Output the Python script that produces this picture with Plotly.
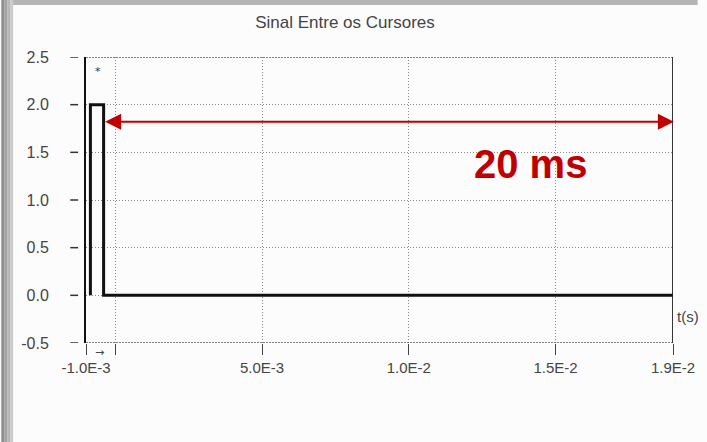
import plotly.graph_objects as go

# ---- data ----
title_text = "Sinal Entre os Cursores"
t_signal = [-0.85e-3, -0.85e-3, -0.40e-3, -0.40e-3, 1.9e-2]
v_signal = [0.0, 2.0, 2.0, 0.0, 0.0]
x_tickvals = [-1.0e-3, 0.0, 5.0e-3, 1.0e-2, 1.5e-2, 1.9e-2]
x_ticktext = ["-1.0E-3", "", "5.0E-3", "1.0E-2", "1.5E-2", "1.9E-2"]
y_tickvals = [-0.5, 0.0, 0.5, 1.0, 1.5, 2.0, 2.5]
y_ticktext = ["-0.5", "0.0", "0.5", "1.0", "1.5", "2.0", "2.5"]
x_range = [-1.0e-3, 1.9e-2]
y_range = [-0.5, 2.5]
span_start, span_end, span_level = -0.40e-3, 1.903e-2, 1.82
span_label = "20 ms"
span_label_pos = (1.416e-2, 1.38)
x_unit = "t(s)"

RED = "#C00000"
W, H = 707, 442
L, R, T, B = 86, 25, 57, 99
pw, ph = W - L - R, H - T - B

def px_x(px):
    return (px - L) / pw

def px_y(py):
    return (H - B - py) / ph

fig = go.Figure()
fig.add_trace(go.Scatter(x=t_signal, y=v_signal, mode="lines",
                         line=dict(color="#111111", width=3),
                         hoverinfo="skip", showlegend=False))

shapes = []
# frame strips (scan shadow)
strip_cols = ["#8f8f8f", "#a3a3a3", "#b8b8b8", "#cbcbcb"]
for i, c in enumerate(strip_cols):
    shapes.append(dict(type="rect", xref="paper", yref="paper", layer="below",
                       x0=px_x(i * 3), x1=px_x(i * 3 + 3), y0=px_y(H), y1=px_y(0),
                       line=dict(width=0), fillcolor=c))
shapes.append(dict(type="rect", xref="paper", yref="paper", layer="below",
                   x0=px_x(12), x1=px_x(W), y0=px_y(5), y1=px_y(0),
                   line=dict(width=0), fillcolor="#b5b5b5"))
# dotted top / bottom borders
for yv in (y_range[0], y_range[1]):
    shapes.append(dict(type="line", xref="x", yref="y", x0=x_range[0], x1=x_range[1],
                       y0=yv, y1=yv, line=dict(color="#555555", width=1.3, dash="2px,1px")))
# right cursor line
shapes.append(dict(type="line", xref="x", yref="y", x0=x_range[1], x1=x_range[1],
                   y0=y_range[0], y1=y_range[1], line=dict(color="#222222", width=1.8)))
# detached y tick dashes
for yv in y_tickvals:
    shapes.append(dict(type="line", xref="paper", yref="y", x0=px_x(70), x1=px_x(78),
                       y0=yv, y1=yv, line=dict(color="#333333", width=1.5)))

annotations = [
    dict(x=span_end, y=span_level, ax=span_start, ay=span_level, xref="x", yref="y",
         axref="x", ayref="y", text="", showarrow=True, arrowhead=2, arrowside="end+start",
         arrowsize=1.6, arrowwidth=2, arrowcolor=RED),
    dict(x=span_label_pos[0], y=span_label_pos[1], xref="x", yref="y", text="<b>" + span_label + "</b>",
         showarrow=False, font=dict(family="Liberation Sans, Arial", size=40, color=RED)),
    dict(x=x_range[1], y=-0.22, xref="x", yref="y", xanchor="left", xshift=2, text=x_unit,
         showarrow=False, font=dict(family="Liberation Sans, Arial", size=15, color="#444444")),
    dict(x=-0.55e-3, y=px_y(344), xref="x", yref="paper", yanchor="top", text="→", showarrow=False,
         font=dict(family="DejaVu Sans", size=11, color="#444444")),
    dict(x=-0.6e-3, y=2.35, xref="x", yref="y", text="*", showarrow=False,
         font=dict(family="DejaVu Sans", size=11, color="#333333")),
]

fig.update_layout(
    width=W, height=H,
    margin=dict(l=L, r=R, t=T, b=B),
    paper_bgcolor="#fcfcfc", plot_bgcolor="rgba(0,0,0,0)",
    title=dict(text=title_text, x=345 / W, xref="container", xanchor="center",
               y=1 - 22 / H, yanchor="middle",
               font=dict(family="Liberation Sans, Arial", size=17, color="#444444")),
    showlegend=False,
    shapes=shapes,
    annotations=annotations,
    font=dict(family="Liberation Sans, Arial", color="#444444"),
)
fig.update_xaxes(range=x_range, tickvals=x_tickvals, ticktext=x_ticktext,
                 showgrid=True, gridcolor="#8a8a8a", griddash="1px,2px", gridwidth=1,
                 ticks="outside", ticklen=11, tickwidth=1, tickcolor="#444444",
                 showline=False, zeroline=False,
                 tickfont=dict(size=15, color="#444444"))
fig.update_yaxes(range=y_range, tickvals=y_tickvals, ticktext=y_ticktext,
                 showgrid=True, gridcolor="#8a8a8a", griddash="1px,2px", gridwidth=1,
                 ticks="", ticklabelstandoff=32,
                 showline=True, linecolor="#111111", linewidth=2, zeroline=False,
                 tickfont=dict(size=16, color="#444444"))

fig.write_html("out.html", config={"displayModeBar": False},
               post_script=("document.documentElement.style.overflow='hidden';"
                            "document.body.style.margin='0px';document.body.style.overflow='hidden';"))
